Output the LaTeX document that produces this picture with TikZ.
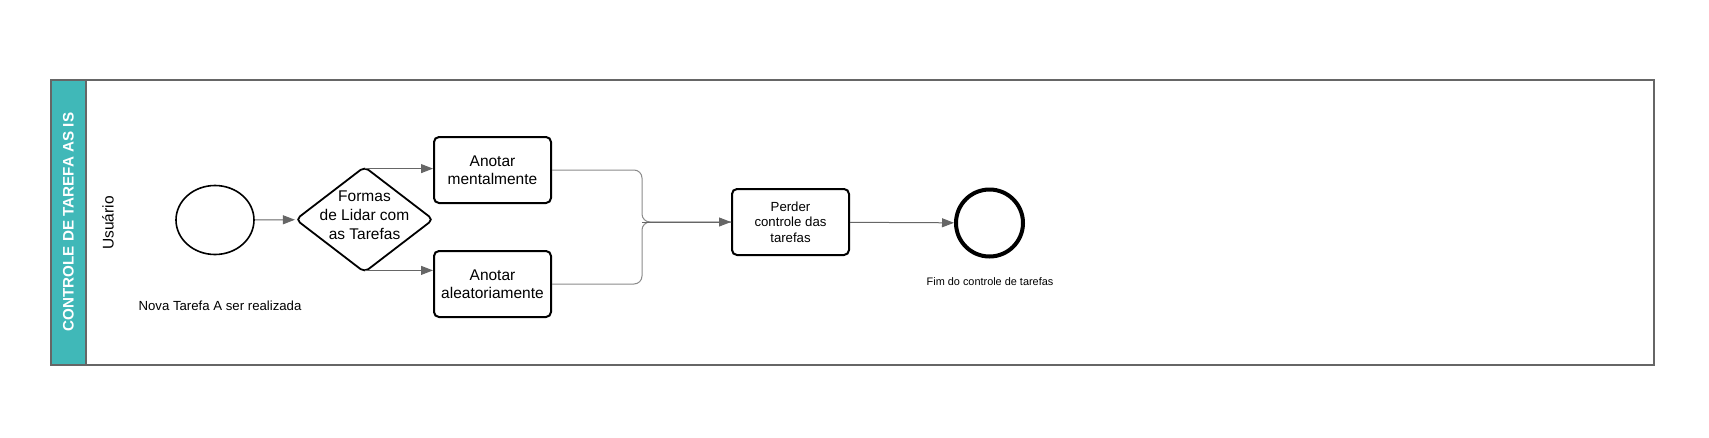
\documentclass[tikz,border=0pt]{standalone}
\usepackage{fontspec}
\setmainfont{Liberation Sans}
\usetikzlibrary{arrows.meta,shapes.geometric}
\definecolor{lanecol}{HTML}{40B8B8}
\definecolor{poolgray}{HTML}{666666}
\definecolor{flowgray}{HTML}{666666}
\definecolor{mergegray}{HTML}{8A8A8A}
\tikzset{
  pool/.style={draw=poolgray, line width=1.2pt},
  task/.style={draw=black, line width=2pt, rounded corners=5pt, minimum width=117pt, minimum height=66pt, inner sep=0pt, align=center, font=\fontsize{15.5}{18.5}\selectfont},
  smalltask/.style={task, font=\fontsize{13.2}{15.7}\selectfont},
  flow/.style={draw=flowgray, line width=1pt, -{Triangle[length=12pt,width=9pt]}},
  merge/.style={draw=mergegray, line width=1pt, rounded corners=8pt},
  plain/.style={inner sep=0pt, align=center},
}
\begin{document}
\begin{tikzpicture}[x=1pt,y=-1pt]
\useasboundingbox (0,0) rectangle (1709,437);
% pool
\fill[lanecol] (51,80) rectangle (86,365);
\draw[pool] (51,80) rectangle (1654,365);
\draw[pool] (86,80) -- (86,365);
\node[plain, rotate=90, text=white, font=\bfseries\fontsize{15.2}{18}\selectfont] (hdr) at (68.5,222) {CONTROLE DE TAREFA AS IS};
\node[plain, rotate=90, font=\fontsize{15.5}{18}\selectfont] (lane) at (108,223) {Usuário};
% start
\node[ellipse, draw=black, line width=1.6pt, minimum width=78pt, minimum height=69pt, inner sep=0pt] (start) at (215,220) {};
% decision
\node[diamond, draw=black, line width=1.8pt, rounded corners=5pt, minimum width=138pt, minimum height=106pt, inner sep=0pt,
  label={[plain, yshift=4pt, font=\fontsize{15.5}{18.8}\selectfont]center:Formas\\de Lidar com\\as Tarefas}] (dec) at (364.5,219.5) {};
% tasks
\node[task] (box1) at (492.5,170) {Anotar\\mentalmente};
\node[task] (box2) at (492.5,284) {Anotar\\aleatoriamente};
\node[smalltask] (perder) at (790.5,222) {Perder\\controle das\\tarefas};
% end
\node[circle, draw=black, line width=4pt, minimum size=67pt, inner sep=0pt] (endc) at (989.5,223) {};
% labels
\node[plain, font=\fontsize{13.2}{16}\selectfont] (startlbl) at (220,306) {Nova Tarefa A ser realizada};
\node[plain, font=\fontsize{10.9}{13}\selectfont] (endlbl) at (990,282) {Fim do controle de tarefas};
% connectors
\coordinate (mx) at (642,222);
\coordinate (dtop) at ([yshift=-3pt]dec.north);
\coordinate (dbot) at ([yshift=3pt]dec.south);
\draw[flow] (start) -- (dec);
\draw[flow] (dtop) -- (dtop -| box1.west);
\draw[flow] (dbot) -- (dbot -| box2.west);
\draw[merge] (box1.east) -| (mx) -- (perder.west);
\draw[merge] (box2.east) -| (mx) -- (perder.west);
\draw[flow] (mx) -- (perder.west);
\draw[flow] (perder) -- (endc);
\end{tikzpicture}
\end{document}
